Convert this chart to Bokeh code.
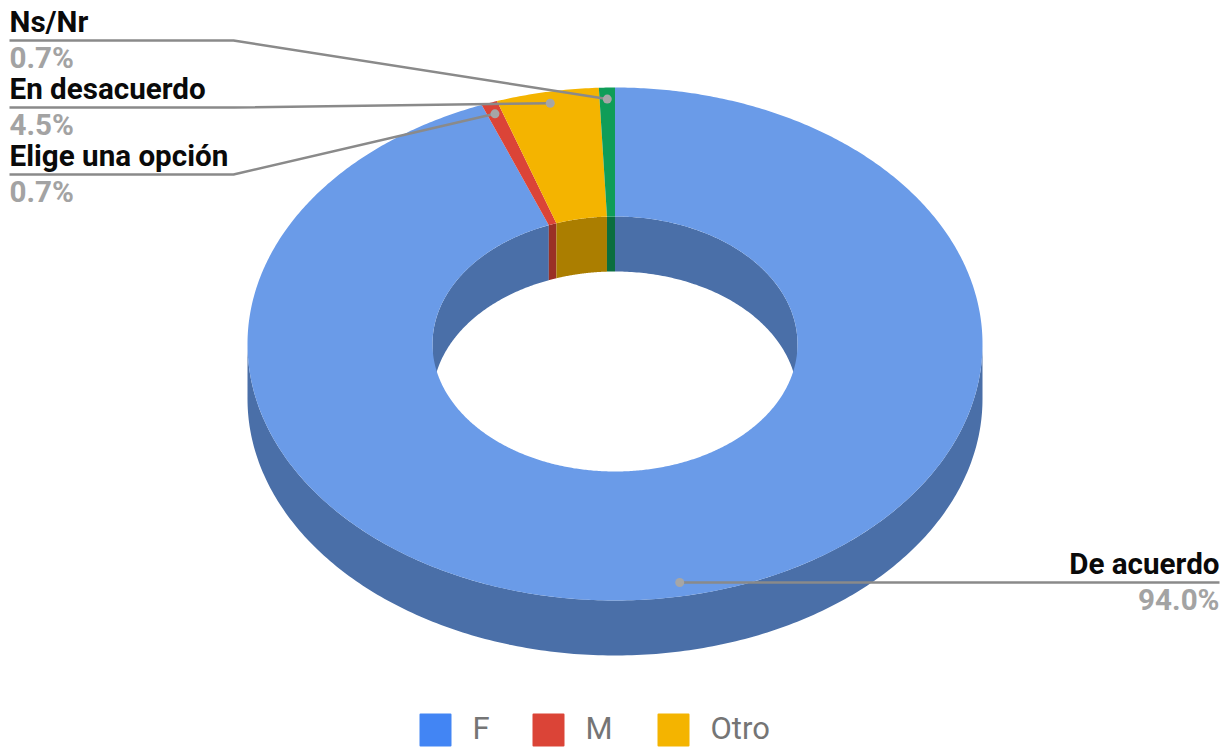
import numpy as np
from bokeh.plotting import figure
from bokeh.models import Range1d
from bokeh.core.properties import value
from bokeh.embed import file_html
from bokeh.resources import INLINE

# --- data ---
labels = ["De acuerdo", "Elige una opción", "En desacuerdo", "Ns/Nr"]
percents = [94.0, 0.7, 4.5, 0.7]
pct_text = ["94.0%", "0.7%", "4.5%", "0.7%"]
top_colors = ["#6a9be8", "#db4437", "#f4b400", "#0f9d58"]
wall_colors = ["#4a6fa8", "#9a3026", "#ab7e00", "#0b6e3e"]
legend_names = ["F", "M", "Otro"]
legend_colors = ["#4285f4", "#db4437", "#f4b400"]

# --- layout (page pixels) ---
W, H = 1224, 748
CX, CY = 614.5, 343.5
RX, RY = 367.5, 256.5
IX, IY = 182.5, 127.5
DEPTH = 55
ANCHOR = 0.955
FONT = value("Roboto")

p = figure(width=W, height=H, output_backend="svg", toolbar_location=None,
           x_range=Range1d(0, W), y_range=Range1d(H, 0),
           min_border=0, outline_line_color=None, background_fill_color="white",
           border_fill_color="white")
p.axis.visible = False
p.grid.visible = False


def pts(a, rx, ry, dy=0.0):
    return CX + rx * np.sin(a), CY - ry * np.cos(a) + dy


vals = np.array(percents)
edges = np.concatenate([[0], np.cumsum(vals)]) / vals.sum() * 2 * np.pi

# outer wall (front half)
a = np.linspace(np.pi / 2, 3 * np.pi / 2, 240)
x0, y0 = pts(a, RX, RY)
x1, y1 = pts(a[::-1], RX, RY, DEPTH)
p.patch(np.r_[x0, x1], np.r_[y0, y1], fill_color=wall_colors[0], line_color=None)

# inner wall (far half), one piece per slice
for i in range(len(vals)):
    s, e = edges[i], edges[i + 1]
    pieces = []
    if s < np.pi / 2:
        pieces.append((s, min(e, np.pi / 2)))
    if e > 3 * np.pi / 2:
        pieces.append((max(s, 3 * np.pi / 2), e))
    for s0, e0 in pieces:
        a = np.linspace(s0, e0, 120)
        x0, y0 = pts(a, IX, IY)
        x1, y1 = pts(a[::-1], IX, IY, DEPTH)
        p.patch(np.r_[x0, x1], np.r_[y0, y1], fill_color=wall_colors[i], line_color=None)

# top face
for i in range(len(vals)):
    a = np.linspace(edges[i], edges[i + 1], max(8, int(720 * vals[i] / 100)))
    x0, y0 = pts(a, RX, RY)
    x1, y1 = pts(a[::-1], IX, IY)
    p.patch(np.r_[x0, x1], np.r_[y0, y1], fill_color=top_colors[i], line_color=None)

# leaders: label position per slice (x of text, rule y, elbow x)
rule_y = [582, 174, 107, 40]
elbow_x = [1219, 233, 233, 233]
text_x = [1219, 9, 9, 9]
LINE = "#8a8a8a"
mid = (edges[:-1] + edges[1:]) / 2
for i in range(len(vals)):
    ax, ay = pts(mid[i], RX * ANCHOR, RY * ANCHOR)
    if i == 0:
        xs, ys = [ax, elbow_x[i]], [rule_y[i], rule_y[i]]
        ay = rule_y[i]
    else:
        xs, ys = [text_x[i], elbow_x[i], ax], [rule_y[i], rule_y[i], ay]
    p.line(xs, ys, line_color=LINE, line_width=2.5)
    p.scatter([ax], [ay], size=9, fill_color="#a6a6a6", line_color=None)
    align = "right" if i == 0 else "left"
    p.text([text_x[i]], [rule_y[i] - 19], text=[labels[i]], text_font=FONT, text_font_size="29.6px",
           text_font_style="bold", text_color="#0a0a0a", text_align=align, text_baseline="middle")
    p.text([text_x[i]], [rule_y[i] + 17], text=[pct_text[i]], text_font=FONT, text_font_size="29.6px",
           text_font_style="bold", text_color="#a3a3a3", text_align=align, text_baseline="middle")

# legend
leg_left = [419, 532, 657]
leg_text = [472, 585, 710]
for i in range(3):
    p.quad(left=[leg_left[i] + 1], right=[leg_left[i] + 31], top=[714], bottom=[745],
           fill_color=legend_colors[i], line_color=legend_colors[i], line_width=2, line_join="round")
    p.text([leg_text[i]], [728], text=[legend_names[i]], text_font=FONT, text_font_size="31px",
           text_color="#757575", text_align="left", text_baseline="middle")

open("out.html", "w").write(file_html(p, INLINE))
